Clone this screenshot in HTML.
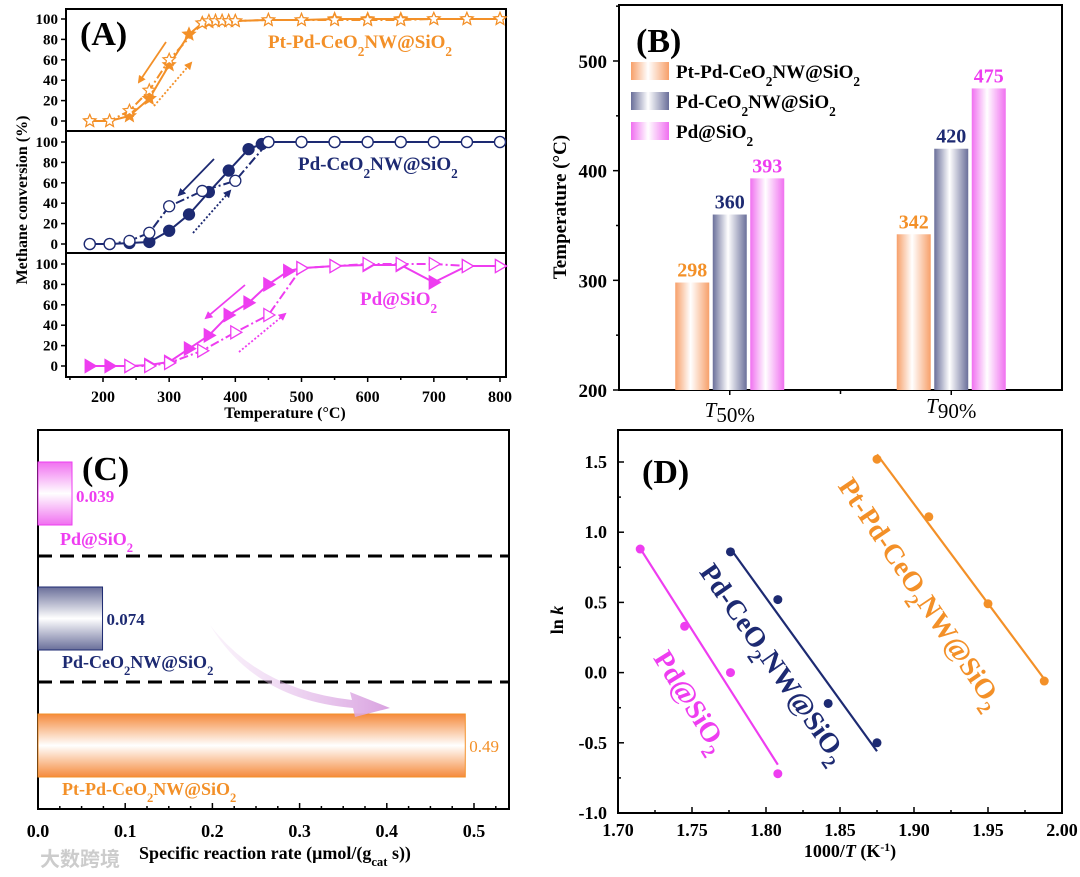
<!DOCTYPE html>
<html><head><meta charset="utf-8"><style>
html,body{margin:0;padding:0;background:#fff}
svg{display:block;font-family:"Liberation Serif",serif;font-weight:bold}
</style></head><body>
<svg id="fig" width="1080" height="877" viewBox="0 0 1080 877">
<defs>
<linearGradient id="gOrH" x1="0" x2="1"><stop offset="0" stop-color="#f7a06a"/><stop offset="0.45" stop-color="#fff"/><stop offset="1" stop-color="#f7a06a"/></linearGradient>
<linearGradient id="gNvH" x1="0" x2="1"><stop offset="0" stop-color="#6a6f9a"/><stop offset="0.45" stop-color="#fff"/><stop offset="1" stop-color="#6a6f9a"/></linearGradient>
<linearGradient id="gMgH" x1="0" x2="1"><stop offset="0" stop-color="#f070f0"/><stop offset="0.45" stop-color="#fff"/><stop offset="1" stop-color="#f070f0"/></linearGradient>
<linearGradient id="gOrV" x1="0" x2="0" y1="0" y2="1"><stop offset="0" stop-color="#f58a3c"/><stop offset="0.5" stop-color="#fff"/><stop offset="1" stop-color="#f58a3c"/></linearGradient>
<linearGradient id="gNvV" x1="0" x2="0" y1="0" y2="1"><stop offset="0" stop-color="#6a6f9a"/><stop offset="0.5" stop-color="#fff"/><stop offset="1" stop-color="#6a6f9a"/></linearGradient>
<linearGradient id="gMgV" x1="0" x2="0" y1="0" y2="1"><stop offset="0" stop-color="#f070f0"/><stop offset="0.5" stop-color="#fff"/><stop offset="1" stop-color="#f070f0"/></linearGradient>
<linearGradient id="gArrow" x1="0" x2="1"><stop offset="0" stop-color="#e8c6ee" stop-opacity="0.2"/><stop offset="1" stop-color="#d9a2e0"/></linearGradient>
<marker id="ahOr" markerWidth="8" markerHeight="8" refX="6" refY="4" orient="auto" markerUnits="userSpaceOnUse"><path d="M0,0 L8,4 L0,8 z" fill="#f39028"/></marker>
<marker id="ahNv" markerWidth="8" markerHeight="8" refX="6" refY="4" orient="auto" markerUnits="userSpaceOnUse"><path d="M0,0 L8,4 L0,8 z" fill="#1d2a72"/></marker>
<marker id="ahMg" markerWidth="8" markerHeight="8" refX="6" refY="4" orient="auto" markerUnits="userSpaceOnUse"><path d="M0,0 L8,4 L0,8 z" fill="#ee3df0"/></marker>
</defs>
</svg>
<script>
// ---------- Panel A data ----------
const aPtTempsF=[180,210,240,270,300,330,350,360,370,380,390,400,450,500,550,600,650,700,750,800];
const aPtValsF=[0,0,5,22,55,85,96,97,98,98,98,98,99,99,100,100,100,100,100,100];
const aPtTempsO=[180,210,240,270,300,350,360,370,380,390,400,450,500,550,600,650,700,750,800];
const aPtValsO=[0,0,10,30,60,96,98,98,98,98,98,99,99,99,99,99,100,100,100];
const aCeTempsF=[180,210,240,270,300,330,360,390,420,440,450,500,550,600,650,700,750,800];
const aCeValsF=[0,0,1,2,13,29,51,72,93,98,100,100,100,100,100,100,100,100];
const aCeTempsO=[180,210,240,270,300,350,400,450,500,550,600,650,700,750,800];
const aCeValsO=[0,0,3,11,37,52,62,100,100,100,100,100,100,100,100];
const aPdTempsF=[180,210,240,270,300,330,360,390,420,450,480,500,550,600,650,700,750,800];
const aPdValsF=[0,0,0,1,4,17,30,50,62,80,93,96,98,99,99,82,98,98];
const aPdTempsO=[240,270,300,350,400,450,500,550,600,650,700,750,800];
const aPdValsO=[0,0,3,15,33,50,96,98,100,100,100,98,98];
const aXTicks=[200,300,400,500,600,700,800];
const aYTicks=[0,20,40,60,80,100];
// ---------- Panel B data ----------
const bCategories=["50%","90%"];
const bPtPd=[298,342];
const bPdCe=[360,420];
const bPdSi=[393,475];
const bYTicks=[200,300,400,500];
// ---------- Panel C data ----------
const cCategories=["Pd@SiO2","Pd-CeO2NW@SiO2","Pt-Pd-CeO2NW@SiO2"];
const cRates=[0.039,0.074,0.49];
const cRateLabels=["0.039","0.074","0.49"];
const cXTicks=[0,0.1,0.2,0.3,0.4,0.5];
// ---------- Panel D data ----------
const dPtX=[1.875,1.910,1.950,1.988];
const dPtY=[1.52,1.11,0.49,-0.06];
const dCeX=[1.776,1.808,1.842,1.875];
const dCeY=[0.86,0.52,-0.22,-0.50];
const dPdX=[1.715,1.745,1.776,1.808];
const dPdY=[0.88,0.33,0.00,-0.72];
const dXTicks=[1.70,1.75,1.80,1.85,1.90,1.95,2.00];
const dYTicks=[-1.0,-0.5,0.0,0.5,1.0,1.5];

const NS="http://www.w3.org/2000/svg";
const svg=document.getElementById('fig');
const OR="#f39028",NV="#1d2a72",MG="#ee3df0";
function mk(parent,tag,attrs,name,txt){
  const el=document.createElementNS(NS,tag);
  for(const k in attrs) el.setAttribute(k,attrs[k]);
  
  
  if(txt!==undefined) el.textContent=txt;
  parent.appendChild(el);
  return el;
}
function chem(parent,x,y,parts,attrs,name){
  const t=mk(parent,'text',Object.assign({x:x,y:y},attrs),name);
  parts.forEach(p=>{
    const s=document.createElementNS(NS,'tspan');
    s.textContent=p[0];
    if(p[1]){s.setAttribute('baseline-shift','sub');s.setAttribute('font-size','70%');}
    t.appendChild(s);
  });
  return t;
}
const PTPD=[["Pt-Pd-CeO",0],["2",1],["NW@SiO",0],["2",1]];
const PDCE=[["Pd-CeO",0],["2",1],["NW@SiO",0],["2",1]];
const PDSI=[["Pd@SiO",0],["2",1]];

// ================= Panel A =================
const gA=mk(svg,'g',{},'panel-a');
const AL=66,AR=506,AT=9,AB=377;
const xA=t=>103+(t-200)*(500-103)/600;
const baseA=[121,244,366];
const yA=(v,i)=>baseA[i]-v*1.02;
mk(gA,'rect',{x:AL,y:AT,width:AR-AL,height:AB-AT,fill:'none',stroke:'#000','stroke-width':2},'panel-a-frame');
mk(gA,'line',{x1:AL,x2:AR,y1:131,y2:131,stroke:'#000','stroke-width':2},'panel-a-divider-1');
mk(gA,'line',{x1:AL,x2:AR,y1:253,y2:253,stroke:'#000','stroke-width':2},'panel-a-divider-2');
for(let i=0;i<3;i++){
  aYTicks.forEach(v=>{
    const y=yA(v,i);
    mk(gA,'line',{x1:AL-5,x2:AL,y1:y,y2:y,stroke:'#000','stroke-width':1.5},'y-tick');
    mk(gA,'text',{x:AL-8,y:y+5,'text-anchor':'end','font-size':15},'y-tick-label',String(v));
  });
}
for(let t=150;t<=800;t+=50){
  const x=xA(t);
  mk(gA,'line',{x1:x,x2:x,y1:AB,y2:AB+(t%100===0?5:3),stroke:'#000','stroke-width':1.5},'x-tick');
}
aXTicks.forEach(t=>mk(gA,'text',{x:xA(t),y:402,'text-anchor':'middle','font-size':16},'x-tick-label',String(t)));
mk(gA,'text',{x:285,y:418,'text-anchor':'middle','font-size':16},'x-axis-title','Temperature (\u00B0C)');
mk(gA,'text',{x:0,y:0,transform:'translate(27,200) rotate(-90)','text-anchor':'middle','font-size':16},'y-axis-title','Methane conversion (%)');
mk(gA,'text',{x:80,y:45,'font-size':34},'panel-label-a','(A)');

function starPts(cx,cy,r){let p=[];for(let k=0;k<10;k++){const a=-Math.PI/2+k*Math.PI/5;const rr=k%2?r*0.45:r;p.push((cx+rr*Math.cos(a)).toFixed(1)+','+(cy+rr*Math.sin(a)).toFixed(1));}return p.join(' ');}
function triPts(cx,cy,r){return [(cx+r)+','+cy,(cx-r*0.7)+','+(cy-r),(cx-r*0.7)+','+(cy+r)].join(' ');}
function series(temps,vals,i,color,dashed,filled,shape,name){
  const g=mk(gA,'g',{},name);
  const pts=temps.map((t,k)=>xA(t).toFixed(1)+','+yA(vals[k],i).toFixed(1)).join(' ');
  mk(g,'polyline',{points:pts,fill:'none',stroke:color,'stroke-width':2,'stroke-dasharray':dashed?'9 3 2 3':'none'},name+'-line');
  temps.forEach((t,k)=>{
    const cx=xA(t),cy=yA(vals[k],i);
    const f=filled?color:'#fff';
    if(shape==='star') mk(g,'polygon',{points:starPts(cx,cy,6.5),fill:f,stroke:color,'stroke-width':1.2},name+'-point');
    else if(shape==='circle') mk(g,'circle',{cx:cx,cy:cy,r:5.5,fill:f,stroke:color,'stroke-width':1.3},name+'-point');
    else mk(g,'polygon',{points:triPts(cx,cy,6.5),fill:f,stroke:color,'stroke-width':1.3},name+'-point');
  });
}
series(aPtTempsF,aPtValsF,0,OR,false,true,'star','ptpd-heating-series');
series(aPtTempsO,aPtValsO,0,OR,true,false,'star','ptpd-cooling-series');
series(aCeTempsF,aCeValsF,1,NV,false,true,'circle','pdce-heating-series');
series(aCeTempsO,aCeValsO,1,NV,true,false,'circle','pdce-cooling-series');
series(aPdTempsF,aPdValsF,2,MG,false,true,'tri','pdsio2-heating-series');
series(aPdTempsO,aPdValsO,2,MG,true,false,'tri','pdsio2-cooling-series');
function arrow(x1,y1,x2,y2,color,mid,dotted,name){
  mk(gA,'line',{x1:x1,y1:y1,x2:x2,y2:y2,stroke:color,'stroke-width':1.8,'stroke-dasharray':dotted?'2 2':'none','marker-end':'url(#'+mid+')'},name);
}
arrow(166,42,139,82,OR,'ahOr',false,'ptpd-cooling-arrow');
arrow(154,106,191,63,OR,'ahOr',true,'ptpd-heating-arrow');
arrow(214,159,179,195,NV,'ahNv',false,'pdce-cooling-arrow');
arrow(193,233,230,191,NV,'ahNv',true,'pdce-heating-arrow');
arrow(245,285,206,318,MG,'ahMg',false,'pdsio2-cooling-arrow');
arrow(239,352,285,314,MG,'ahMg',true,'pdsio2-heating-arrow');
chem(gA,268,48,PTPD,{'font-size':19,fill:OR},'ptpd-label');
chem(gA,298,170,PDCE,{'font-size':19,fill:NV},'pdce-label');
chem(gA,360,305,PDSI,{'font-size':19,fill:MG},'pdsio2-label');

// ================= Panel B =================
const gB=mk(svg,'g',{},'panel-b');
const BL=619,BR=1062,BT=5,BB=390;
const yB=v=>BB-(v-200)*(BB-61)/300;
const xB=i=>BL+(i*2+1)/4*(BR-BL);
mk(gB,'rect',{x:BL,y:BT,width:BR-BL,height:BB-BT,fill:'none',stroke:'#000','stroke-width':2},'panel-b-frame');
for(let v=200;v<=550;v+=50){const y=yB(v);mk(gB,'line',{x1:BL-(v%100===0?6:3),x2:BL,y1:y,y2:y,stroke:'#000','stroke-width':1.5},'y-tick');}
bYTicks.forEach(v=>mk(gB,'text',{x:607,y:yB(v)+7,'text-anchor':'end','font-size':19},'y-tick-label',String(v)));
[0,1,2].forEach(k=>{const x=BL+k*(BR-BL)/2+(BR-BL)/4;mk(gB,'line',{x1:x,x2:x,y1:BB,y2:BB+5,stroke:'#000','stroke-width':1.5},'x-tick');});
mk(gB,'line',{x1:BL+(BR-BL)/2,x2:BL+(BR-BL)/2,y1:BB,y2:BB+4,stroke:'#000','stroke-width':1.5},'x-tick');
bCategories.forEach((c,i)=>{
  const t=mk(gB,'text',{x:xB(i),y:i===0?417:413,'text-anchor':'middle','font-size':21,'font-weight':'normal'},'category-label');
  const a=document.createElementNS(NS,'tspan');a.setAttribute('font-style','italic');a.textContent='T';t.appendChild(a);
  const b=document.createElementNS(NS,'tspan');b.setAttribute('dy','5');b.textContent=c;t.appendChild(b);
});
mk(gB,'text',{x:0,y:0,transform:'translate(566,207) rotate(-90)','text-anchor':'middle','font-size':19},'y-axis-title','Temperature (\u00B0C)');
mk(gB,'text',{x:636,y:52,'font-size':34},'panel-label-b','(B)');
const bSeries=[[bPtPd,'url(#gOrH)',OR,'bar-ptpd'],[bPdCe,'url(#gNvH)',NV,'bar-pdce'],[bPdSi,'url(#gMgH)',MG,'bar-pdsio2']];
bSeries.forEach((s,j)=>{
  s[0].forEach((v,i)=>{
    const cx=xB(i)+(j-1)*37.5;
    mk(gB,'rect',{x:cx-17,y:yB(v),width:34,height:BB-yB(v),fill:s[1]},s[3]);
    mk(gB,'text',{x:cx,y:yB(v)-6,'text-anchor':'middle','font-size':20,fill:s[2]},'bar-value-label',String(v));
  });
});
const legB=[[PTPD,'url(#gOrH)',62],[PDCE,'url(#gNvH)',92],[PDSI,'url(#gMgH)',122]];
legB.forEach((l,k)=>{
  mk(gB,'rect',{x:631,y:l[2],width:38,height:18,fill:l[1]},'legend-swatch');
  chem(gB,676,l[2]+16,l[0],{'font-size':19},'legend-entry');
});

// ================= Panel C =================
const gC=mk(svg,'g',{},'panel-c');
const CL=38,CR=509,CT=430,CB=809;
const xC=v=>CL+v*(474-38)/0.5;
mk(gC,'rect',{x:CL,y:CT,width:CR-CL,height:CB-CT,fill:'none',stroke:'#000','stroke-width':2},'panel-c-frame');
for(let v=0;v<=0.54;v+=0.025){const x=xC(v);const major=Math.abs(v*10-Math.round(v*10))<1e-6;mk(gC,'line',{x1:x,x2:x,y1:CB,y2:CB-(major?6:3),stroke:'#000','stroke-width':1.5},'x-tick');}
cXTicks.forEach(v=>mk(gC,'text',{x:xC(v),y:837,'text-anchor':'middle','font-size':18},'x-tick-label',v.toFixed(1)));
const ct=mk(gC,'text',{x:275,y:859,'text-anchor':'middle','font-size':18},'x-axis-title');
ct.innerHTML='Specific reaction rate (\u03BCmol/(g<tspan baseline-shift="sub" font-size="70%">cat</tspan> s))';
mk(gC,'line',{x1:CL,x2:CR,y1:556,y2:556,stroke:'#000','stroke-width':3,'stroke-dasharray':'14 8'},'separator-1');
mk(gC,'line',{x1:CL,x2:CR,y1:682,y2:682,stroke:'#000','stroke-width':3,'stroke-dasharray':'14 8'},'separator-2');
const cRows=[[462,'url(#gMgV)',MG,PDSI,545],[587,'url(#gNvV)',NV,PDCE,668],[714,'url(#gOrV)',OR,PTPD,795]];
cRates.forEach((v,i)=>{
  const r=cRows[i];
  mk(gC,'rect',{x:CL,y:r[0],width:xC(v)-CL,height:63,fill:r[1],stroke:r[2],'stroke-width':1},'rate-bar');
  mk(gC,'text',{x:xC(v)+4,y:i===2?r[0]+38:r[0]+(i===0?40:38),'font-size':17,fill:r[2],'font-weight':i===2?'normal':'bold'},'rate-value-label',cRateLabels[i]);
  chem(gC,i===0?60:62,r[4],r[3],{'font-size':18,fill:r[2]},'category-label');
});
mk(gC,'path',{d:'M210,625 Q260,690 352,700 L350,692 L390,708 L355,717 L353,708 Q255,700 210,625 Z',fill:'url(#gArrow)'},'trend-arrow');
mk(gC,'text',{x:82,y:480,'font-size':34},'panel-label-c','(C)');
mk(svg,'text',{x:40,y:866,'font-size':20,fill:'#ccc','font-family':'"Liberation Sans","Noto Sans CJK SC",sans-serif'},'watermark','\u5927\u6570\u8DE8\u5883');

// ================= Panel D =================
const gD=mk(svg,'g',{},'panel-d');
const DL=618,DR=1062,DT=430,DB=813;
const xD=v=>DL+(v-1.7)*(DR-DL)/0.3;
const yD=v=>462+(1.5-v)*(813-462)/2.5;
mk(gD,'rect',{x:DL,y:DT,width:DR-DL,height:DB-DT,fill:'none',stroke:'#000','stroke-width':2},'panel-d-frame');
for(let k=0;k<=12;k++){const v=1.7+k*0.025;const x=xD(v);mk(gD,'line',{x1:x,x2:x,y1:DB,y2:DB-(k%2?3:6),stroke:'#000','stroke-width':1.5},'x-tick');}
for(let k=0;k<=10;k++){const v=-1+k*0.25;const y=yD(v);mk(gD,'line',{x1:DL,x2:DL+(k%2?3:6),y1:y,y2:y,stroke:'#000','stroke-width':1.5},'y-tick');}
dXTicks.forEach(v=>mk(gD,'text',{x:xD(v),y:836,'text-anchor':'middle','font-size':18},'x-tick-label',v.toFixed(2)));
dYTicks.forEach(v=>mk(gD,'text',{x:607,y:yD(v)+6,'text-anchor':'end','font-size':18},'y-tick-label',v.toFixed(1)));
const dt=mk(gD,'text',{x:850,y:857,'text-anchor':'middle','font-size':18},'x-axis-title');
dt.innerHTML='1000/<tspan font-style="italic">T</tspan> (K<tspan baseline-shift="super" font-size="65%">-1</tspan>)';
const dy=mk(gD,'text',{x:0,y:0,transform:'translate(563,620) rotate(-90)','text-anchor':'middle','font-size':18},'y-axis-title');
dy.innerHTML='ln <tspan font-style="italic">k</tspan>';
mk(gD,'text',{x:642,y:483,'font-size':34},'panel-label-d','(D)');
function fitLine(X,Y,color,name){
  const n=X.length;const mx=X.reduce((a,b)=>a+b)/n,my=Y.reduce((a,b)=>a+b)/n;
  let sxy=0,sxx=0;X.forEach((x,k)=>{sxy+=(x-mx)*(Y[k]-my);sxx+=(x-mx)*(x-mx);});
  const m=sxy/sxx,b=my-m*mx;const x0=Math.min(...X),x1=Math.max(...X);
  const g=mk(gD,'g',{},name);
  mk(g,'line',{x1:xD(x0),y1:yD(m*x0+b),x2:xD(x1),y2:yD(m*x1+b),stroke:color,'stroke-width':2.2},name+'-fit-line');
  X.forEach((x,k)=>mk(g,'circle',{cx:xD(x),cy:yD(Y[k]),r:4.5,fill:color},name+'-point'));
}
fitLine(dPtX,dPtY,OR,'ptpd-series');
fitLine(dCeX,dCeY,NV,'pdce-series');
fitLine(dPdX,dPdY,MG,'pdsio2-series');
chem(gD,0,0,PTPD,{transform:'translate(918,595) rotate(56)','text-anchor':'middle','dominant-baseline':'middle','font-size':28,fill:OR},'ptpd-rotated-label');
chem(gD,0,0,PDCE,{transform:'translate(771,665) rotate(55)','text-anchor':'middle','dominant-baseline':'middle','font-size':28,fill:NV},'pdce-rotated-label');
chem(gD,0,0,PDSI,{transform:'translate(688,703) rotate(58)','text-anchor':'middle','dominant-baseline':'middle','font-size':28,fill:MG},'pdsio2-rotated-label');
</script>
</body></html>
